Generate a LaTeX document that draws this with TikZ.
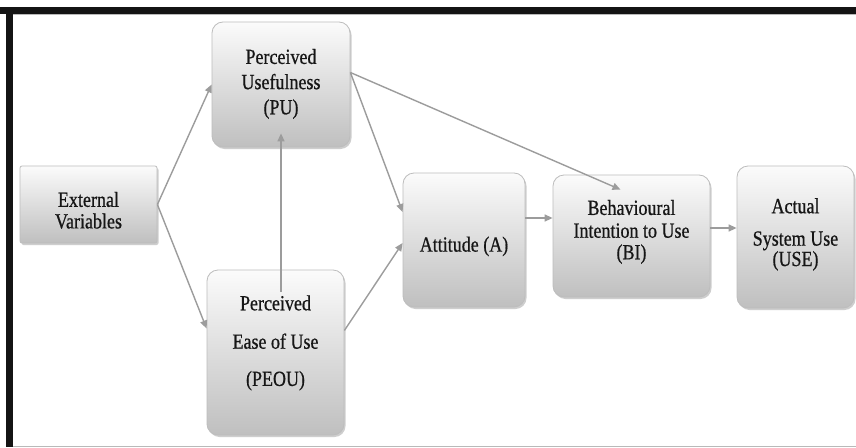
\documentclass[tikz,border=0pt]{standalone}
\usepackage{fontspec}
\setmainfont{Liberation Serif}
\newfontfamily\boxfont{Liberation Serif}[FakeBold=0.7]
\usetikzlibrary{arrows.meta,shadows,calc}
\definecolor{linegray}{HTML}{9C9C9C}
\definecolor{edgegray}{HTML}{BDBDBD}
\definecolor{inkgray}{HTML}{161616}
\definecolor{framebk}{HTML}{141414}
% box caption: centred lines, slightly stretched vertically, shifted by #1
\newcommand\boxtext[2][0pt]{\raisebox{#1}[0pt][0pt]{\scalebox{1}[1.2]{\begin{tabular}{@{}c@{}}#2\end{tabular}}}}

\begin{document}
\begin{tikzpicture}[x=1pt,y=-1pt,
  card/.style={draw=edgegray, line width=0.8pt, rounded corners=11pt,
    top color=gray!3, middle color=gray!13, bottom color=gray!50,
    text=inkgray, font=\boxfont\fontsize{18}{20}\selectfont, inner sep=0pt,
    drop shadow={shadow xshift=1.5pt, shadow yshift=-2pt, fill=gray!70, opacity=0.55}},
  flat/.style={card, rounded corners=2pt},
  link/.style={draw=linegray, line width=1.4pt, -{Triangle[length=8pt,width=7pt]}}]

% canvas and frame
\fill[white] (0,0) rectangle (856,447);
\useasboundingbox (0,0) rectangle (856,447);
\fill[framebk] (0,7) rectangle (856,14);
\fill[framebk] (6,7) rectangle (13,447);
\draw[gray!55, line width=1pt] (13,14.5) -- (856,14.5);
\draw[gray!55, line width=1pt] (13,446) -- (856,446);

% boxes
\node[flat, minimum width=137pt, minimum height=77pt] (ev) at (88.5,204.5)
  {\boxtext[-13.5pt]{External\\[-2pt]Variables}};
\node[card, minimum width=138pt, minimum height=125pt] (pu) at (281,84.5)
  {\boxtext[-5pt]{Perceived\\[1pt]Usefulness\\[1pt](PU)}};
\node[card, minimum width=137pt, minimum height=165pt] (peou) at (275.5,352.5)
  {\boxtext[4pt]{Perceived\\[12pt]Ease of Use\\[11pt](PEOU)}};
\node[card, minimum width=122pt, minimum height=134pt] (att) at (464,240)
  {\boxtext[-12pt]{Attitude (A)}};
\node[card, minimum width=157pt, minimum height=122pt] (bi) at (631.5,236)
  {\boxtext[-1.5pt]{Behavioural\\[-1pt]Intention to Use\\[-2pt](BI)}};
\node[card, minimum width=117pt, minimum height=142pt] (use) at (795.5,237)
  {\boxtext[-3pt]{Actual\\[7pt]System Use\\[-3pt](USE)}};

% connectors
\draw[link] (ev.east) -- (pu.west);
\draw[link] (ev.east) -- ([yshift=24pt]peou.west);
\draw[link] ([yshift=12pt]pu.east) -- ([yshift=28pt]att.west);
\draw[link] ([yshift=22pt]peou.east) -- ([yshift=-3pt]att.west);
\draw[link] ([yshift=12pt]pu.east) -- ([xshift=-11pt,yshift=-15pt]bi.north);
\draw[link] ([yshift=22pt]att.east) -- ([yshift=22pt]att.east -| bi.west);
\draw[link] ([yshift=8pt]bi.east) -- ([yshift=8pt]bi.east -| use.west);
\draw[link] ([yshift=-22pt]peou.north -| pu.south) -- ([yshift=14pt]pu.south);
\end{tikzpicture}
\end{document}
